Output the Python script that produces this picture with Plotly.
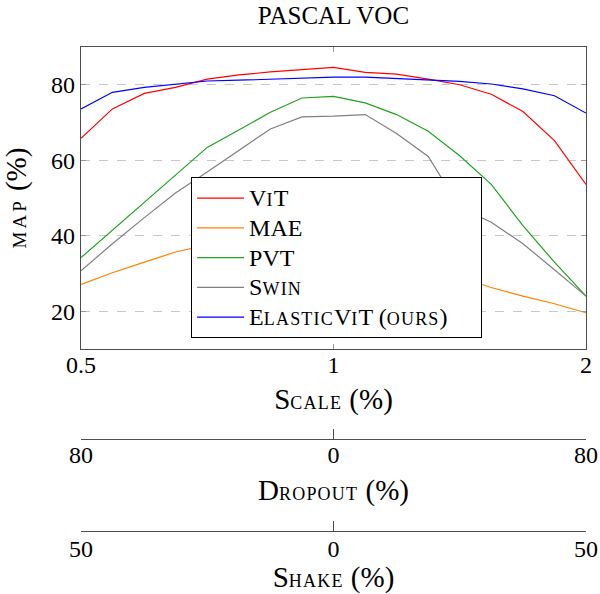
import plotly.graph_objects as go

# ---- data ----
scale = [0.5, 0.545, 0.595, 0.648, 0.707, 0.771, 0.841, 0.917, 1.0,
         1.091, 1.189, 1.297, 1.414, 1.542, 1.682, 1.834, 2.0]
vit = [65.8, 73.6, 77.7, 79.3, 81.5, 82.6, 83.4, 83.9, 84.6,
       83.3, 82.8, 81.5, 80.0, 77.5, 72.9, 65.2, 53.6]
mae = [27.1, 30.2, 33.0, 35.7, 37.5, 39.0, 40.0, 40.5, 41.0,
       40.0, 38.0, 34.0, 29.0, 26.3, 24.0, 22.0, 19.6]
pvt = [34.2, 41.4, 48.9, 55.9, 63.4, 68.0, 72.7, 76.5, 76.9,
       75.2, 72.1, 67.7, 61.2, 53.6, 42.7, 33.0, 24.0]
swin = [30.7, 37.9, 44.8, 51.3, 56.9, 62.6, 68.3, 71.5, 71.7,
        72.1, 67.1, 61.0, 47.5, 43.6, 37.9, 31.0, 24.0]
elastic = [73.6, 78.0, 79.3, 80.2, 81.0, 81.2, 81.5, 81.9, 82.0,
           82.0, 81.7, 81.2, 80.9, 80.2, 78.9, 77.1, 72.5]

scale_ticks = [0.5, 1, 2]
scale_ticktext = ["0.5", "1", "2"]
dropout_ticks = [-80, 0, 80]
dropout_ticktext = ["80", "0", "80"]
shake_ticks = [-50, 0, 50]
shake_ticktext = ["50", "0", "50"]
y_ticks = [20, 40, 60, 80]

FONT = "Liberation Serif"
FS = 24
SM = 18


def sm(t, s=SM, ls=1.2):
    return f"<span style='font-size:{s}px;letter-spacing:{ls}px'>{t}</span>"


def big(t):
    return f"<span style='font-size:{FS}px'>{t}</span>"


series = [
    ("V" + sm("I") + "T", vit, "#ff0000"),
    ("MAE", mae, "#ff8000"),
    ("PVT", pvt, "#22a022"),
    ("S" + sm("WIN"), swin, "#808080"),
    ("E" + sm("LASTIC") + "V" + sm("I") + "T (" + sm("OURS")
     + "<span style='letter-spacing:28px'>)</span>", elastic, "#0000ff"),
]

fig = go.Figure()
for name, vals, col in series:
    fig.add_trace(go.Scatter(x=scale, y=vals, mode="lines", name=big(name),
                             line=dict(color=col, width=1.2)))

# empty traces so that the extra axes exist
fig.add_trace(go.Scatter(x=[], y=[], xaxis="x2", showlegend=False))
fig.add_trace(go.Scatter(x=[], y=[], xaxis="x3", showlegend=False))

AX = "#4d4d4d"
TK = "#9a9a9a"
ydom0 = 0.376

fig.update_layout(
    template="none",
    width=600, height=594, autosize=False,
    margin=dict(l=81, r=14, t=47, b=63),
    paper_bgcolor="white", plot_bgcolor="white",
    font=dict(family=FONT, size=FS, color="black"),
    title=dict(text="PASCAL VOC", x=0.5558, xanchor="center",
               y=1 - 15 / 594, yanchor="middle", yref="container",
               font=dict(family=FONT, size=25, color="black")),
    xaxis=dict(type="log", range=[-0.30103, 0.30103], automargin=False,
               tickvals=scale_ticks, ticktext=scale_ticktext,
               ticks="inside", ticklen=5, tickcolor=TK, tickwidth=1.2,
               ticklabelstandoff=-6,
               showline=True, linecolor=AX, linewidth=1.2, mirror="ticks",
               showgrid=False, zeroline=False,
               title=dict(text="S" + sm("CALE") + " (%)", standoff=11)),
    yaxis=dict(domain=[ydom0, 1], range=[10, 90], tickvals=y_ticks, automargin=False,
               ticks="inside", ticklen=5, tickcolor=TK, tickwidth=1.2,
               showline=True, linecolor=AX, linewidth=1.2, mirror="ticks",
               showgrid=True, gridcolor="#c8c8c8", griddash="dash", gridwidth=1,
               zeroline=False,
               title=dict(text=sm("MAP", 19, 3) + " (%)", standoff=17)),
    xaxis2=dict(overlaying="x", anchor="free", position=0.1895, automargin=False,
                range=[-80, 80], tickvals=dropout_ticks, ticktext=dropout_ticktext,
                ticks="inside", ticklen=10, tickcolor=AX, tickwidth=1.2,
                ticklabelstandoff=-6,
                showline=True, linecolor=AX, linewidth=1.2,
                showgrid=False, zeroline=False,
                title=dict(text="D" + sm("ROPOUT") + " (%)", standoff=12)),
    xaxis3=dict(overlaying="x", anchor="free", position=0.0, automargin=False,
                range=[-50, 50], tickvals=shake_ticks, ticktext=shake_ticktext,
                ticks="inside", ticklen=10, tickcolor=AX, tickwidth=1.2,
                ticklabelstandoff=-4,
                showline=True, linecolor=AX, linewidth=1.2,
                showgrid=False, zeroline=False,
                title=dict(text="S" + sm("HAKE") + " (%)", standoff=19)),
    legend=dict(x=0.218, y=0.731, xanchor="left", yanchor="top",
                bgcolor="white", bordercolor="black", borderwidth=1,
                font=dict(family=FONT, size=20.6, color="black"),
                itemwidth=47, tracegroupgap=0),
    showlegend=True,
)

fig.write_html("out.html", config={"displayModeBar": False},
               post_script="document.body.style.margin='0px';")
